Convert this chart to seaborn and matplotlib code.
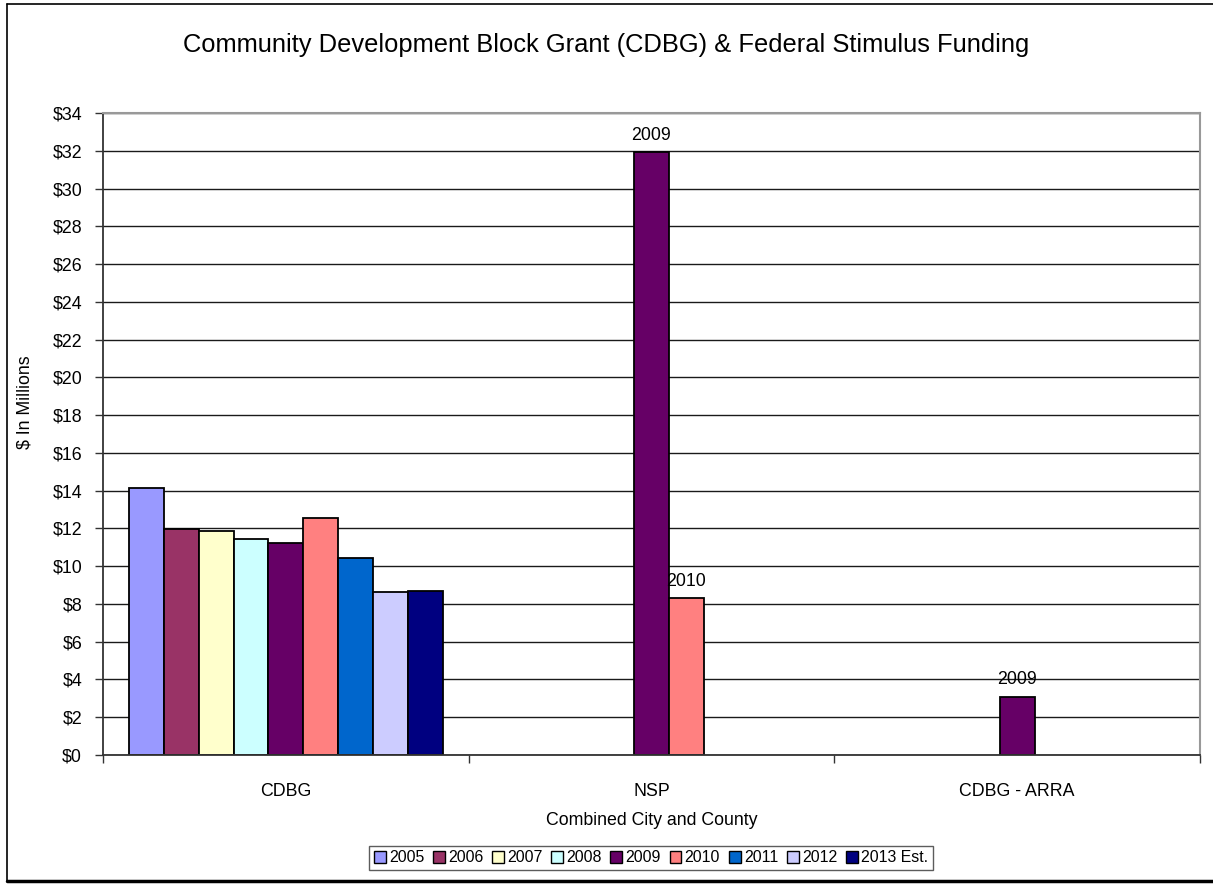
import matplotlib
matplotlib.use("Agg")
import matplotlib.pyplot as plt
from matplotlib.lines import Line2D
from matplotlib.patches import Patch
import seaborn as sns
import pandas as pd

# ---------------- data ----------------
categories = ["CDBG", "NSP", "CDBG - ARRA"]
years = ["2005", "2006", "2007", "2008", "2009", "2010", "2011", "2012", "2013 Est."]
cdbg_values = [14.16, 11.98, 11.88, 11.45, 11.22, 12.53, 10.45, 8.65, 8.67]
nsp_years = ["2009", "2010"]
nsp_values = [31.94, 8.30]
arra_years = ["2009"]
arra_values = [3.09]
labelled_categories = ["NSP", "CDBG - ARRA"]
y_ticks = list(range(0, 35, 2))
colors = ["#9999FF", "#993366", "#FFFFCC", "#CCFFFF", "#660066",
          "#FF8080", "#0066CC", "#CCCCFF", "#000080"]

rows = []
for y, v in zip(years, cdbg_values):
    rows.append({"category": "CDBG", "year": y, "value": v})
for y, v in zip(nsp_years, nsp_values):
    rows.append({"category": "NSP", "year": y, "value": v})
for y, v in zip(arra_years, arra_values):
    rows.append({"category": "CDBG - ARRA", "year": y, "value": v})
df = pd.DataFrame(rows)

# ---------------- style ----------------
sns.set_style("white")
plt.rcParams["font.family"] = ["Liberation Sans", "DejaVu Sans"]
plt.rcParams["text.color"] = "black"
plt.rcParams["axes.labelcolor"] = "black"
plt.rcParams["xtick.color"] = "black"
plt.rcParams["ytick.color"] = "black"

W, H = 1213, 884
fig = plt.figure(figsize=(W / 100, H / 100), dpi=100)
ax = fig.add_axes([103 / W, 1 - 755 / H, (1200 - 103) / W, (755 - 113) / H])

sns.barplot(data=df, x="category", y="value", hue="year",
            order=categories, hue_order=years, palette=colors,
            saturation=1, width=9 / 10.5, edgecolor="black", linewidth=1.3,
            ax=ax, legend=False)

# data labels (series name) on NSP and ARRA bars
for year, cont in zip(years, ax.containers):
    labels = []
    for bar in cont:
        ci = int(round(bar.get_x() + bar.get_width() / 2))
        labels.append(year if categories[ci] in labelled_categories else "")
    ax.bar_label(cont, labels=labels, padding=6, fontsize=12.8, color="black")

# axes
ax.set_ylim(0, 34)
ax.set_xlim(-0.5, len(categories) - 0.5)
ax.set_yticks(y_ticks)
ax.set_yticklabels([f"${t}" for t in y_ticks])
ax.yaxis.grid(True, color="#1a1a1a", linewidth=1.0)
ax.set_axisbelow(True)
ax.tick_params(axis="y", direction="out", length=6, width=1, color="#333333",
               pad=9, labelsize=12.8, left=True)
ax.set_xticks(range(len(categories)))
ax.set_xticklabels(categories)
ax.tick_params(axis="x", which="major", length=0, pad=20, labelsize=12.8)
ax.set_xticks([i - 0.5 for i in range(len(categories) + 1)], minor=True)
ax.tick_params(axis="x", which="minor", direction="out", length=6, width=1,
               color="#333333", bottom=True)

for side in ["left", "bottom"]:
    ax.spines[side].set_color("#333333")
    ax.spines[side].set_linewidth(1.3)
for side in ["top", "right"]:
    ax.spines[side].set_color("#999999")
    ax.spines[side].set_linewidth(1.5)

ax.set_xlabel("Combined City and County", fontsize=12.8, labelpad=9)
ax.set_ylabel("$ In Millions", fontsize=12.8)
ax.yaxis.set_label_coords(-0.0638, 0.55)

fig.suptitle("Community Development Block Grant (CDBG) & Federal Stimulus Funding",
             x=606 / W, y=1 - 45 / H, va="center", fontsize=18.4, color="black")

# legend
handles = [Patch(facecolor=c, edgecolor="black", linewidth=1.0) for c in colors]
leg = fig.legend(handles, years, loc="center", bbox_to_anchor=(651 / W, 1 - 858 / H),
                 ncol=len(years), fontsize=11.4, frameon=True, fancybox=False,
                 handlelength=0.75, handleheight=0.75, handletextpad=0.2,
                 columnspacing=0.55, borderpad=0.3, borderaxespad=0)
leg.get_frame().set_edgecolor("#333333")
leg.get_frame().set_linewidth(1.0)

# chart-area border
fig.add_artist(Line2D([7 / W, 7 / W], [1 - 4 / H, 1 - 881 / H], transform=fig.transFigure,
                      color="black", linewidth=1.2))
fig.add_artist(Line2D([7 / W, 1.0], [1 - 4 / H, 1 - 4 / H], transform=fig.transFigure,
                      color="black", linewidth=1.2))
fig.add_artist(Line2D([7 / W, 1.0], [1 - 881 / H, 1 - 881 / H], transform=fig.transFigure,
                      color="black", linewidth=2.5))

fig.savefig("out.png", dpi=100)
